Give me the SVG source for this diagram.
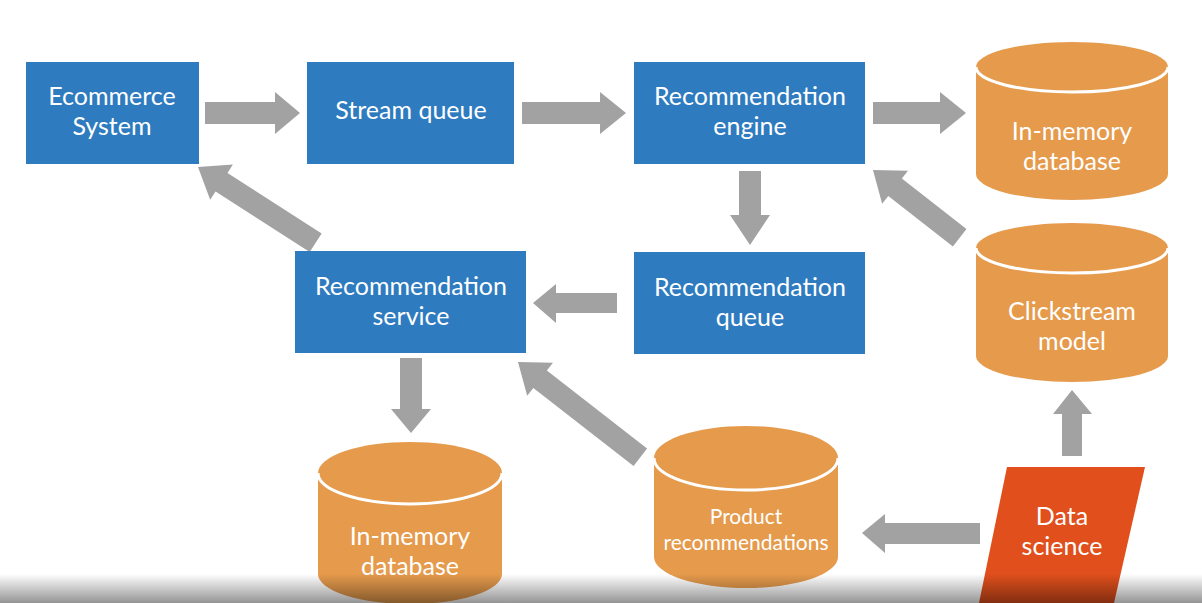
<svg xmlns="http://www.w3.org/2000/svg" width="1202" height="603" viewBox="0 0 1202 603">
<defs>
<style>
.box{fill:#2E7BBF}
.cyl{fill:#E59A4C}
.rim{fill:none;stroke:#FFFFFF;stroke-width:3}
.ds{fill:#E04F1C}
.arrow{fill:#A2A2A3}
.t{font-family:Lato,"Open Sans","Liberation Sans",sans-serif;font-size:25px;fill:#FFFFFF;text-anchor:middle}
.ts{font-size:21px}
</style>
<linearGradient id="band" x1="0" y1="0" x2="0" y2="1">
<stop offset="0" stop-color="#000" stop-opacity="0"/>
<stop offset="1" stop-color="#000" stop-opacity="0.42"/>
</linearGradient>
</defs>
<rect width="1202" height="603" fill="#FFFFFF"/>

<g id="connectors">
<polygon class="arrow" points="205,102 275,102 275,92 300,113 275,134 275,124 205,124"/>
<polygon class="arrow" points="522,102 600,102 600,92 626,113 600,134 600,124 522,124"/>
<polygon class="arrow" points="873,102 940,102 940,92 966,113 940,134 940,124 873,124"/>
<polygon class="arrow" points="739,171 761,171 761,215 770,215 750,245 730,215 739,215"/>
<polygon class="arrow" points="617,293 556,293 556,284 533,303 556,323 556,313 617,313"/>
<polygon class="arrow" points="400,358 422,358 422,409 431,409 411,433 391,409 400,409"/>
<polygon class="arrow" points="1062,456 1062,414 1053,414 1072,390 1092,414 1082,414 1082,456"/>
<polygon class="arrow" points="980,523 885,523 885,514 862,533 885,553 885,544 980,544"/>
<polygon class="arrow" transform="translate(198,167) rotate(212.8)" points="0,0 -28,-21 -28,-11 -140,-11 -140,11 -28,11 -28,21"/>
<polygon class="arrow" transform="translate(518,362) rotate(217.9)" points="0,0 -28,-21 -28,-11 -155,-11 -155,11 -28,11 -28,21"/>
<polygon class="arrow" transform="translate(873,170) rotate(218)" points="0,0 -28,-21 -28,-11 -110,-11 -110,11 -28,11 -28,21"/>
</g>

<g id="ecommerce">
<rect class="box" x="26" y="62" width="173" height="102"/>
<text class="t" x="112" y="105">Ecommerce</text>
<text class="t" x="112" y="135">System</text>
</g>
<g id="stream-queue">
<rect class="box" x="307" y="62" width="207" height="102"/>
<text class="t" x="411" y="119">Stream queue</text>
</g>
<g id="recommendation-engine">
<rect class="box" x="634" y="62" width="231" height="102"/>
<text class="t" x="750" y="105">Recommendation</text>
<text class="t" x="750" y="135">engine</text>
</g>
<g id="recommendation-service">
<rect class="box" x="295" y="251" width="231" height="102"/>
<text class="t" x="411" y="295">Recommendation</text>
<text class="t" x="411" y="325">service</text>
</g>
<g id="recommendation-queue">
<rect class="box" x="634" y="252" width="231" height="102"/>
<text class="t" x="750" y="296">Recommendation</text>
<text class="t" x="750" y="326">queue</text>
</g>

<g id="inmemory-top">
<path class="cyl" d="M976,67 A96,25 0 0 1 1168,67 V174 A96,26 0 0 1 976,174 Z"/>
<path class="rim" d="M976,67 A96,25 0 0 0 1168,67"/>
<text class="t" x="1072" y="140">In-memory</text>
<text class="t" x="1072" y="170">database</text>
</g>
<g id="clickstream-model">
<path class="cyl" d="M976,248 A96,25 0 0 1 1168,248 V356 A96,26 0 0 1 976,356 Z"/>
<path class="rim" d="M976,248 A96,25 0 0 0 1168,248"/>
<text class="t" x="1072" y="320">Clickstream</text>
<text class="t" x="1072" y="350">model</text>
</g>
<g id="product-recommendations">
<path class="cyl" d="M654,458 A92,32 0 0 1 838,458 V557 A92,31 0 0 1 654,557 Z"/>
<path class="rim" d="M654,458 A92,32 0 0 0 838,458"/>
<text class="t ts" x="746" y="524">Product</text>
<text class="t ts" x="746" y="550">recommendations</text>
</g>
<g id="inmemory-bottom">
<path class="cyl" d="M318,473 A92,31 0 0 1 502,473 V574 A92,30 0 0 1 318,574 Z"/>
<path class="rim" d="M318,473 A92,31 0 0 0 502,473"/>
<text class="t" x="410" y="545">In-memory</text>
<text class="t" x="410" y="575">database</text>
</g>
<g id="data-science">
<polygon class="ds" points="1007,467 1145,467 1114,603 979,603"/>
<text class="t" x="1062" y="525">Data</text>
<text class="t" x="1062" y="555">science</text>
</g>

<rect x="0" y="574" width="1202" height="29" fill="url(#band)"/>
</svg>
